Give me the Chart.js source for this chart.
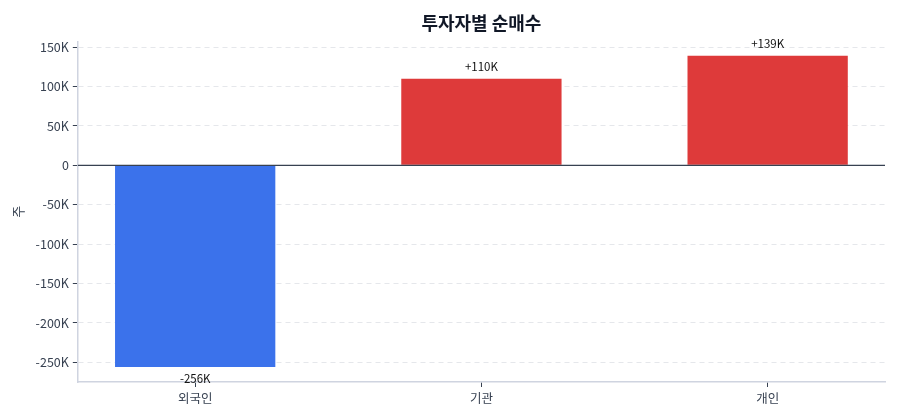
<!DOCTYPE html>
<html>
<head>
<meta charset="utf-8">
<script src="https://cdn.jsdelivr.net/npm/chart.js@4.4.0/dist/chart.umd.min.js"></script>
<style>
  html, body { margin: 0; padding: 0; background: #fff; }
  #wrap { width: 900px; height: 420px; }
</style>
</head>
<body>
<div id="wrap"><canvas id="myChart"></canvas></div>
<script>
// 투자자별 순매수 (주)
const investors = ['외국인', '기관', '개인'];
const netBuy = [-256000, 110000, 139000];
const barColors = ['#3b72eb', '#de3a3a', '#de3a3a'];
const yTicks = [-250000, -200000, -150000, -100000, -50000, 0, 50000, 100000, 150000];

const fmtK = (v) => (v === 0 ? '0' : (v / 1000) + 'K');
const fmtSigned = (v) => (v > 0 ? '+' : '') + Math.round(v / 1000) + 'K';

const FONT = "'Noto Sans CJK KR', 'Noto Sans', sans-serif";

// zero line + value labels
const extras = {
  id: 'extras',
  afterDatasetsDraw(chart) {
    const { ctx, chartArea, scales } = chart;
    const y0 = scales.y.getPixelForValue(0);
    ctx.save();
    ctx.strokeStyle = '#374151';
    ctx.lineWidth = 1.3;
    ctx.beginPath();
    ctx.moveTo(chartArea.left, y0);
    ctx.lineTo(chartArea.right, y0);
    ctx.stroke();

    ctx.fillStyle = '#111111';
    ctx.font = '11.5px ' + FONT;
    ctx.textAlign = 'center';
    ctx.textBaseline = 'middle';
    chart.getDatasetMeta(0).data.forEach((bar, i) => {
      const v = netBuy[i];
      const y = v >= 0 ? bar.y - 12 : bar.y + 12;
      ctx.fillText(fmtSigned(v), bar.x, y);
    });
    ctx.restore();
  }
};

const ctx = document.getElementById('myChart');
new Chart(ctx, {
  type: 'bar',
  data: {
    datasets: [{
      label: '순매수',
      data: netBuy.map((v, i) => ({ x: i, y: v })),
      backgroundColor: barColors,
      borderWidth: 0,
      barPercentage: 0.56,
      categoryPercentage: 1
    }]
  },
  options: {
    responsive: true,
    maintainAspectRatio: false,
    animation: false,
    layout: { padding: { left: 10, right: 15, top: 4, bottom: 10 } },
    plugins: {
      legend: { display: false },
      tooltip: { enabled: false },
      title: {
        display: true,
        text: '투자자별 순매수',
        fullSize: false,
        color: '#111827',
        font: { family: FONT, size: 18, weight: 'bold' },
        padding: { top: 8, bottom: 8 }
      }
    },
    scales: {
      x: {
        type: 'linear',
        offset: false,
        min: -0.41,
        max: 2.41,
        afterBuildTicks: (axis) => { axis.ticks = investors.map((_, i) => ({ value: i })); },
        ticks: {
          callback: (v) => investors[v],
          color: '#374151',
          font: { family: FONT, size: 12.5 },
          padding: 4
        },
        grid: {
          offset: false,
          drawOnChartArea: false,
          drawTicks: true,
          tickLength: 5,
          tickColor: '#374151'
        },
        border: { display: true, color: '#cfd4e0', width: 1.5 }
      },
      y: {
        min: -275000,
        max: 157000,
        afterBuildTicks: (axis) => { axis.ticks = yTicks.map((v) => ({ value: v })); },
        title: {
          display: true,
          text: '주',
          color: '#374151',
          font: { family: FONT, size: 13 },
          padding: { top: 0, bottom: 6 }
        },
        ticks: {
          callback: (v) => fmtK(v),
          color: '#374151',
          font: { family: FONT, size: 12.5 },
          padding: 4
        },
        grid: {
          color: '#e5e7eb',
          lineWidth: 1,
          tickLength: 5,
          tickColor: '#374151',
          tickBorderDash: []
        },
        border: { display: true, color: '#cfd4e0', width: 1.5, dash: [5, 4] }
      }
    }
  },
  plugins: [extras]
});
</script>
</body>
</html>
